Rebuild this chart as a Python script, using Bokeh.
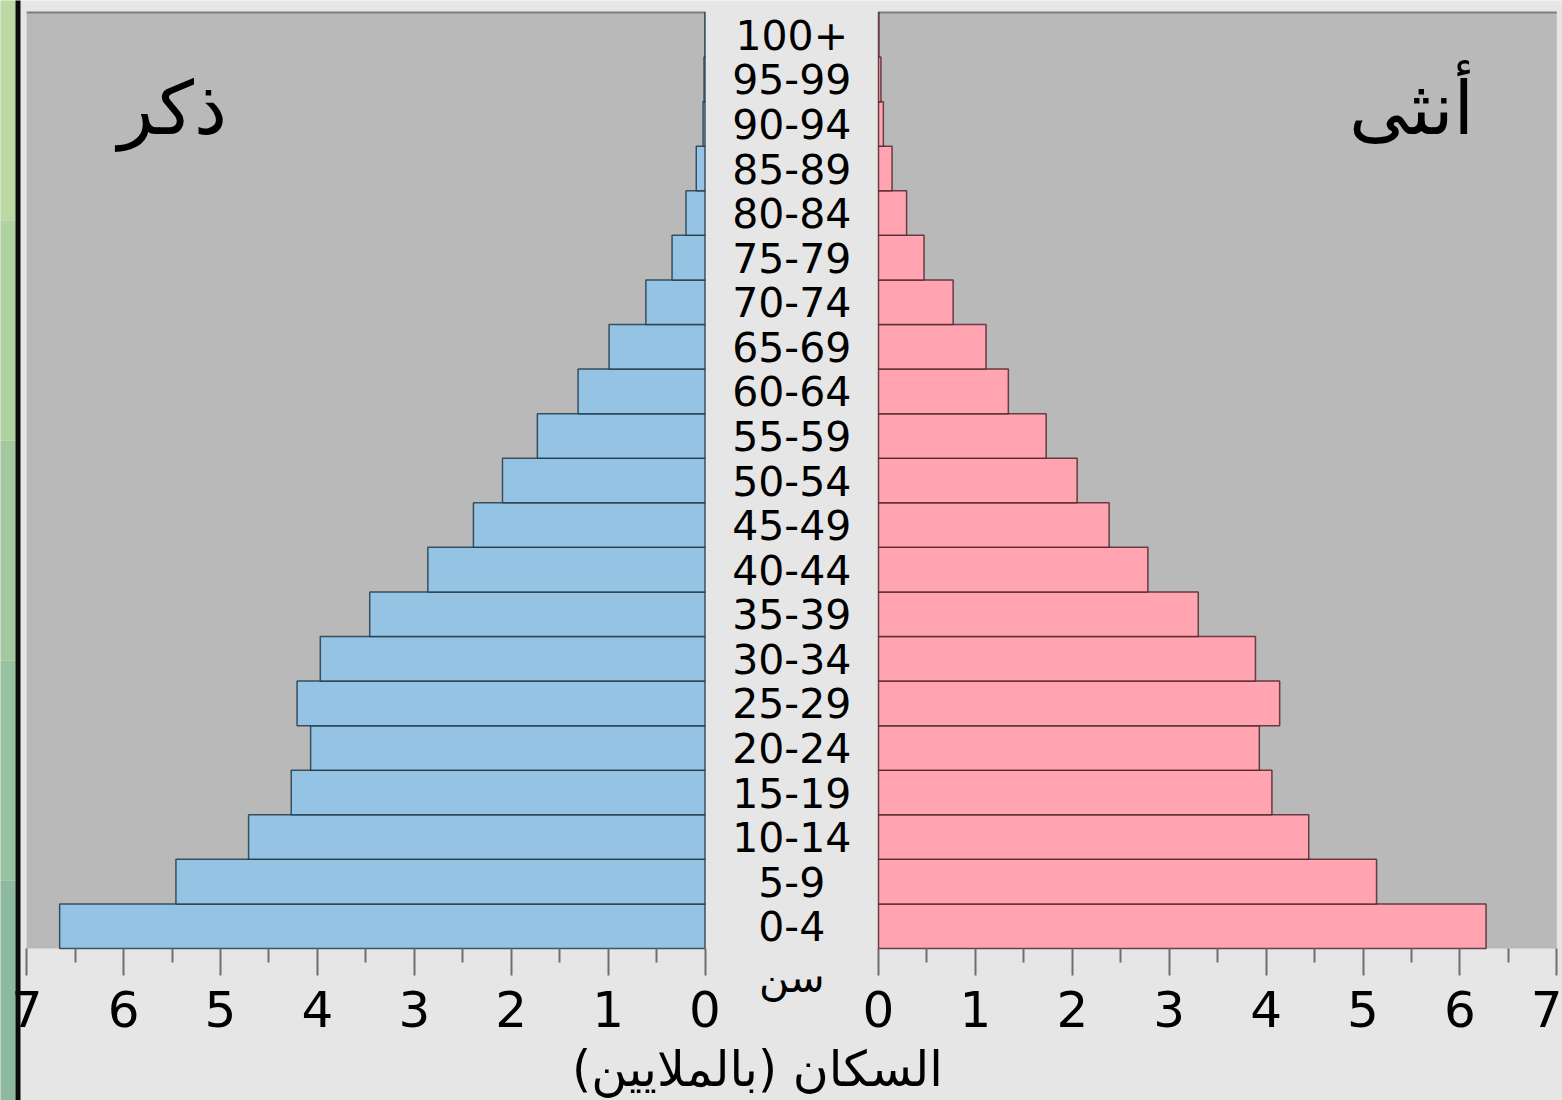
from bokeh.plotting import figure
from bokeh.models import Range1d, FixedTicker, CustomJSTickFormatter, ColumnDataSource
from bokeh.core.properties import value
from bokeh.embed import file_html
from bokeh.resources import INLINE

# ---- data (millions) ----
ages = ["0-4", "5-9", "10-14", "15-19", "20-24", "25-29", "30-34", "35-39",
        "40-44", "45-49", "50-54", "55-59", "60-64", "65-69", "70-74", "75-79",
        "80-84", "85-89", "90-94", "95-99", "100+"]
male = [6.66, 5.46, 4.71, 4.27, 4.07, 4.21, 3.97, 3.46, 2.86, 2.39, 2.09,
        1.73, 1.31, 0.99, 0.61, 0.34, 0.196, 0.09, 0.02, 0.01, 0.002]
female = [6.27, 5.14, 4.44, 4.06, 3.93, 4.14, 3.89, 3.30, 2.78, 2.38, 2.05,
          1.73, 1.34, 1.11, 0.77, 0.47, 0.29, 0.14, 0.05, 0.025, 0.005]
male_title = "ذكر"
female_title = "أنثى"
age_title = "سن"
x_title = "السكان (بالملايين)"
tick_values = list(range(0, 8))

# ---- layout constants (pixel geometry of the canvas) ----
W, H = 1562, 1100
S = 96.9                  # px per million
ZERO_L = 704.5            # canvas x of the male zero
ZERO_R = 878.0            # canvas x of the female zero
GAP = (ZERO_R - ZERO_L) / S
ROW = 44.571              # px per age row
PANEL_BOTTOM = 948.0      # canvas y of the panels' bottom

x_start = -ZERO_L / S
x_end = (W - ZERO_L) / S
y_start = -0.5 - (H - PANEL_BOTTOM) / ROW
y_end = -0.5 + PANEL_BOTTOM / ROW

def px_x(px):
    return (px - ZERO_L) / S

def px_y(py):
    return -0.5 + (PANEL_BOTTOM - py) / ROW

FONT = "DejaVu Sans"

p = figure(width=W, height=H, x_range=Range1d(x_start, x_end), y_range=Range1d(y_start, y_end),
           output_backend="svg", toolbar_location=None, y_axis_location=None,
           min_border_left=0, min_border_right=0, min_border_top=0, min_border_bottom=0)
p.background_fill_color = "#e6e6e6"
p.border_fill_color = "#e6e6e6"
p.outline_line_color = None
p.grid.visible = False

n = len(ages)
idx = list(range(n))
xmax = tick_values[-1]

# panel backgrounds
p.quad(left=[-xmax, GAP], right=[0, GAP + xmax],
       bottom=[-0.5, -0.5], top=[n - 0.5, n - 0.5],
       fill_color="#b9b9b9", line_color=None)
p.segment(x0=[-xmax, GAP], x1=[0, GAP + xmax],
          y0=[n - 0.5, n - 0.5], y1=[n - 0.5, n - 0.5], line_color="#7f7f7f", line_width=2)

src = ColumnDataSource(dict(
    y=idx,
    m_left=[-v for v in male],
    m_right=[0] * n,
    f_left=[GAP] * n,
    f_right=[GAP + v for v in female],
    age=ages,
    cx=[GAP / 2] * n,
))

p.hbar(y="y", left="m_left", right="m_right", height=1.0, source=src,
       fill_color="#95c3e3", line_color="#1c3340", line_alpha=0.8, line_width=1.5)
p.hbar(y="y", left="f_left", right="f_right", height=1.0, source=src,
       fill_color="#ffa4b0", line_color="#4a1f26", line_alpha=0.8, line_width=1.5)

p.text(x="cx", y="y", text="age", source=src, text_font=value(FONT),
       text_font_size="41px", text_align="center", text_baseline="middle", text_color="black")

# panel titles
p.text(x=[px_x(172), GAP + (1411 - ZERO_R) / S], y=[px_y(107), px_y(107)],
       text=[male_title, female_title],
       text_font=value(FONT), text_font_size="74px", text_align="center",
       text_baseline="alphabetic", text_color="black")

# age caption and population caption
p.text(x=[GAP / 2], y=[px_y(977)], text=[age_title], text_font=value(FONT),
       text_font_size="41px", text_align="center", text_baseline="alphabetic", text_color="black")
p.text(x=[px_x(757)], y=[px_y(1069)], text=[x_title], text_font=value(FONT),
       text_font_size="49px", text_align="center", text_baseline="alphabetic", text_color="black")

# left decorative edge of the source picture
bands = ["#bcd9a4", "#b0d2a0", "#a4c9a0", "#98c1a0", "#8cb9a0"]
nb = len(bands)
edges = [y_start + (y_end - y_start) * k / nb for k in range(nb + 1)]
p.quad(left=[x_start] * nb, right=[px_x(15)] * nb, bottom=edges[:-1], top=edges[1:],
       fill_color=bands[::-1], line_color=None, level="overlay")
p.quad(left=[px_x(15)], right=[px_x(20)], bottom=[y_start], top=[y_end],
       fill_color="#0a0a0a", line_color=None, level="overlay")

# x axis fixed at the panels' bottom edge
ax = p.xaxis[0]
ax.fixed_location = -0.5
major = [-v for v in tick_values] + [GAP + v for v in tick_values]
minor = [-(v + 0.5) for v in tick_values[:-1]] + [GAP + v + 0.5 for v in tick_values[:-1]]
ax.ticker = FixedTicker(ticks=major, minor_ticks=minor)
ax.formatter = CustomJSTickFormatter(args=dict(g=GAP), code="""
    const v = tick < g / 2 ? -tick : tick - g;
    return String(Math.abs(Math.round(v)));
""")
ax.axis_line_color = None
ax.major_tick_in = 0
ax.major_tick_out = 27
ax.minor_tick_in = 0
ax.minor_tick_out = 14
ax.major_tick_line_color = "#6e6e6e"
ax.minor_tick_line_color = "#6e6e6e"
ax.major_tick_line_width = 2
ax.minor_tick_line_width = 2
ax.major_label_text_font = FONT
ax.major_label_text_font_size = "50px"
ax.major_label_text_color = "black"
ax.major_label_standoff = 15

open("out.html", "w").write(file_html(p, INLINE))
